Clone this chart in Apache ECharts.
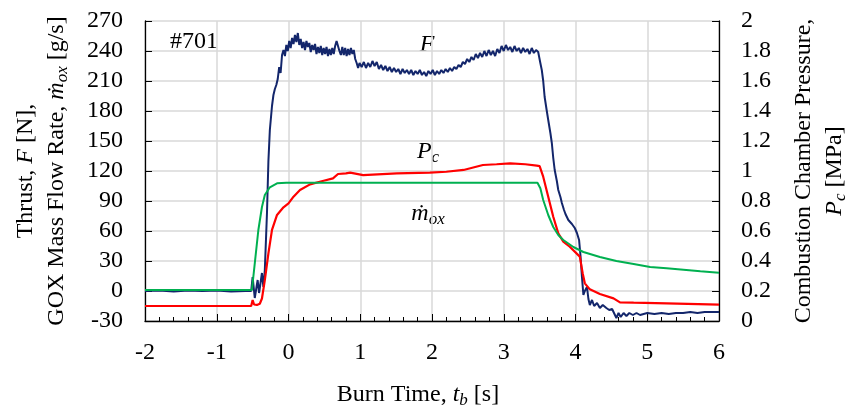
<!DOCTYPE html>
<html>
<head>
<meta charset="utf-8">
<script src="https://cdn.jsdelivr.net/npm/echarts@6/dist/echarts.min.js"></script>
<style>html,body{margin:0;padding:0;background:#fff}#c{width:852px;height:412px}</style>
</head>
<body>
<div id="c"></div>
<script>
// Thrust F [N]
const fTime = [-2.0,-1.8,-1.6,-1.4,-1.2,-1.0,-0.8,-0.6,-0.52,-0.50,-0.47,-0.43,-0.41,-0.37,-0.35,-0.33,-0.30,-0.28,-0.26,-0.23,-0.21,-0.19,-0.17,-0.15,-0.13,-0.11,-0.09,-0.07,-0.05,-0.03,-0.01,
0.01,0.03,0.05,0.07,0.09,0.11,0.13,0.15,0.17,0.19,0.21,0.23,0.25,0.27,0.29,0.31,0.33,0.35,0.37,0.39,0.41,0.43,0.45,0.47,0.49,0.51,0.53,0.55,0.57,0.59,0.61,0.63,0.65,0.67,0.69,0.71,0.73,0.75,0.77,0.79,0.81,0.83,0.85,0.87,0.89,0.91,0.93,0.95,0.97,0.99,
1.02,1.05,1.08,1.11,1.14,1.17,1.20,1.23,1.26,1.29,1.32,1.35,1.38,1.41,1.44,1.47,1.50,1.53,1.56,1.59,1.62,1.65,1.68,1.71,1.74,1.77,1.80,1.83,1.86,1.89,1.92,1.95,1.98,
2.01,2.04,2.07,2.10,2.13,2.16,2.19,2.22,2.25,2.28,2.31,2.34,2.37,2.40,2.43,2.46,2.49,2.52,2.55,2.58,2.61,2.64,2.67,2.70,2.73,2.76,2.79,2.82,2.85,2.88,2.91,2.94,2.97,
3.00,3.03,3.06,3.09,3.12,3.15,3.18,3.21,3.24,3.27,3.30,3.33,3.36,3.39,3.42,3.45,3.48,3.51,3.53,3.55,3.57,3.60,3.62,3.65,3.67,3.69,3.71,3.74,3.76,3.79,3.81,3.84,3.86,3.88,3.90,3.92,3.95,3.97,3.99,
4.02,4.05,4.07,4.09,4.11,4.13,4.16,4.18,4.20,4.23,4.26,4.30,4.34,4.38,4.43,4.47,4.51,4.55,4.57,4.60,4.63,4.67,4.71,4.75,4.80,4.85,4.90,5.0,5.1,5.2,5.3,5.4,5.5,5.6,5.7,5.8,5.9,6.0];
const fValue = [0,0.5,-0.5,0.5,0,0.5,-0.5,0,0,14,-7,11,-2,18,4,21,78,130,161,185,196,202,206,212,224,218,236,241,235,246,240,
250,243,253,247,256,249,258,246,252,243,249,241,250,244,248,239,246,241,247,237,244,238,245,236,243,237,244,235,242,236,243,237,245,250,252,240,236,244,236,243,235,242,236,243,237,241,232,228,223,228,
224,229,223,228,224,230,225,229,222,226,221,225,220,224,219,223,219,222,217,222,218,221,217,221,216,220,217,221,216,219,215,220,217,
221,216,220,217,221,218,222,219,223,220,224,222,226,224,229,227,232,229,234,231,237,233,238,234,240,235,241,236,240,235,242,238,245,
240,246,241,244,239,245,240,243,238,243,239,242,237,243,238,241,239,228,221,210,194,180,171,158,148,133,121,110,101,94,88,81,77,74,71,69,67,65,63,
58,51,35,14,-4,0,4,-8,-14,-9,-15,-12,-17,-14,-17,-19,-18,-24,-27,-22,-26,-22,-25,-22,-24,-22,-24,-22,-23,-22,-23,-22,-22,-21,-22,-21,-21,-21];

// Combustion chamber pressure Pc [MPa]
const pTime = [-2.0,-0.6,-0.52,-0.50,-0.48,-0.44,-0.40,-0.37,-0.33,-0.28,-0.23,-0.16,-0.07,0.0,0.07,0.16,0.30,0.49,0.62,0.69,0.80,0.86,1.04,1.51,1.97,2.2,2.44,2.71,2.9,3.09,3.3,3.46,3.50,3.55,3.62,3.69,3.76,3.83,3.92,4.06,4.10,4.13,4.20,4.34,4.53,4.62,4.81,5.27,6.0];
const pValue = [0.10,0.10,0.10,0.14,0.11,0.107,0.115,0.15,0.273,0.451,0.607,0.707,0.758,0.784,0.829,0.873,0.911,0.935,0.951,0.98,0.984,0.989,0.973,0.984,0.989,0.995,1.007,1.04,1.045,1.051,1.045,1.036,1.033,0.962,0.829,0.695,0.584,0.529,0.495,0.429,0.318,0.251,0.211,0.18,0.151,0.124,0.122,0.118,0.109];

// GOX mass flow rate [g/s]
const mTime = [-2.0,-0.51,-0.47,-0.42,-0.37,-0.33,-0.26,-0.16,-0.03,3.47,3.51,3.55,3.62,3.69,3.76,3.83,3.97,4.11,4.34,4.57,4.81,5.04,5.27,5.74,6.0];
const mValue = [1,1,27.7,61,84,96,103.7,107.7,108.3,108.3,102.7,91,76,64,56,51,44,39,34,30,27,24,22.7,19.7,18.3];

const xTicks = {min: -2, max: 6, interval: 1};
const yLeftTicks = {min: -30, max: 270, interval: 30};
const yRightTicks = {min: 0, max: 2, interval: 0.2};

const zip = (a, b) => a.map((t, i) => [t, b[i]]);
const FONT = 'Liberation Serif';
const rich = {
  i: {fontStyle: 'italic', fontFamily: FONT, fontSize: 24, color: '#000', lineHeight: 31},
  sub: {fontStyle: 'italic', fontFamily: FONT, fontSize: 17, color: '#000', lineHeight: 31, padding: [12, 0, 0, 0]}
};

const chart = echarts.init(document.getElementById('c'), null, {renderer: 'canvas'});
chart.setOption({
  animation: false,
  backgroundColor: '#fff',
  grid: {left: 145, right: 133, top: 21, bottom: 91, containLabel: false, outerBoundsMode: 'none'},
  xAxis: {
    type: 'value', min: xTicks.min, max: xTicks.max, interval: xTicks.interval,
    name: 'Burn Time, {i|t}{sub|b} [s]', nameLocation: 'middle', nameGap: 58,
    nameTextStyle: {fontFamily: FONT, fontSize: 24, color: '#000', padding: [0, 28, 0, 0], rich: rich},
    axisLine: {show: true, onZero: false, lineStyle: {color: '#000', width: 1.3}},
    axisTick: {show: true, inside: true, length: 7, lineStyle: {color: '#000'}},
    minorTick: {show: true, splitNumber: 5, length: 4, lineStyle: {color: '#000'}},
    axisLabel: {fontFamily: FONT, fontSize: 24, color: '#000', margin: 20},
    splitLine: {show: true, lineStyle: {color: '#d9d9d9', width: 1.5}}
  },
  yAxis: [{
    type: 'value', min: yLeftTicks.min, max: yLeftTicks.max, interval: yLeftTicks.interval,
    position: 'left',
    name: 'Thrust, {i|F} [N],\nGOX Mass Flow Rate, {i|ṁ}{sub|ox} [g/s]',
    nameLocation: 'middle', nameGap: 73,
    nameTextStyle: {fontFamily: FONT, fontSize: 24, color: '#000', lineHeight: 31, rich: rich},
    axisLine: {show: true, onZero: false, lineStyle: {color: '#000', width: 1.3}},
    axisTick: {show: true, inside: true, length: 7, lineStyle: {color: '#000'}},
    axisLabel: {fontFamily: FONT, fontSize: 24, color: '#000', margin: 22},
    splitLine: {show: true, lineStyle: {color: '#d9d9d9', width: 1.5}}
  }, {
    type: 'value', min: yRightTicks.min, max: yRightTicks.max, interval: yRightTicks.interval,
    position: 'right',
    name: 'Combustion Chamber Pressure,\n{i|P}{sub|c} [MPa]',
    nameLocation: 'middle', nameGap: 69,
    nameTextStyle: {fontFamily: FONT, fontSize: 24, color: '#000', lineHeight: 31, rich: rich},
    axisLine: {show: true, onZero: false, lineStyle: {color: '#000', width: 1.3}},
    axisTick: {show: true, inside: true, length: 7, lineStyle: {color: '#000'}},
    axisLabel: {fontFamily: FONT, fontSize: 24, color: '#000', margin: 22},
    splitLine: {show: false}
  }],
  series: [
    {name: 'F', type: 'line', yAxisIndex: 0, data: zip(fTime, fValue), showSymbol: false, symbol: 'none',
     lineStyle: {color: '#13266b', width: 2}, z: 2},
    {name: 'Pc', type: 'line', yAxisIndex: 1, data: zip(pTime, pValue), showSymbol: false, symbol: 'none',
     lineStyle: {color: '#ff0000', width: 2.2}, z: 3},
    {name: 'mox', type: 'line', yAxisIndex: 0, data: zip(mTime, mValue), showSymbol: false, symbol: 'none',
     lineStyle: {color: '#00b050', width: 2}, z: 4}
  ],
  graphic: [
    {type: 'text', left: 170, top: 30, style: {text: '#701', font: '24px "Liberation Serif"', fill: '#000'}},
    {type: 'text', x: 427, y: 45, style: {text: 'F', font: 'italic 24px "Liberation Serif"', fill: '#000', align: 'center', verticalAlign: 'middle'}},
    {type: 'text', x: 428, y: 152, style: {text: '{i|P}{sub|c}', rich: rich, fill: '#000', align: 'center', verticalAlign: 'middle'}},
    {type: 'text', x: 428, y: 214, style: {text: '{i|ṁ}{sub|ox}', rich: rich, fill: '#000', align: 'center', verticalAlign: 'middle'}}
  ]
});
</script>
</body>
</html>
